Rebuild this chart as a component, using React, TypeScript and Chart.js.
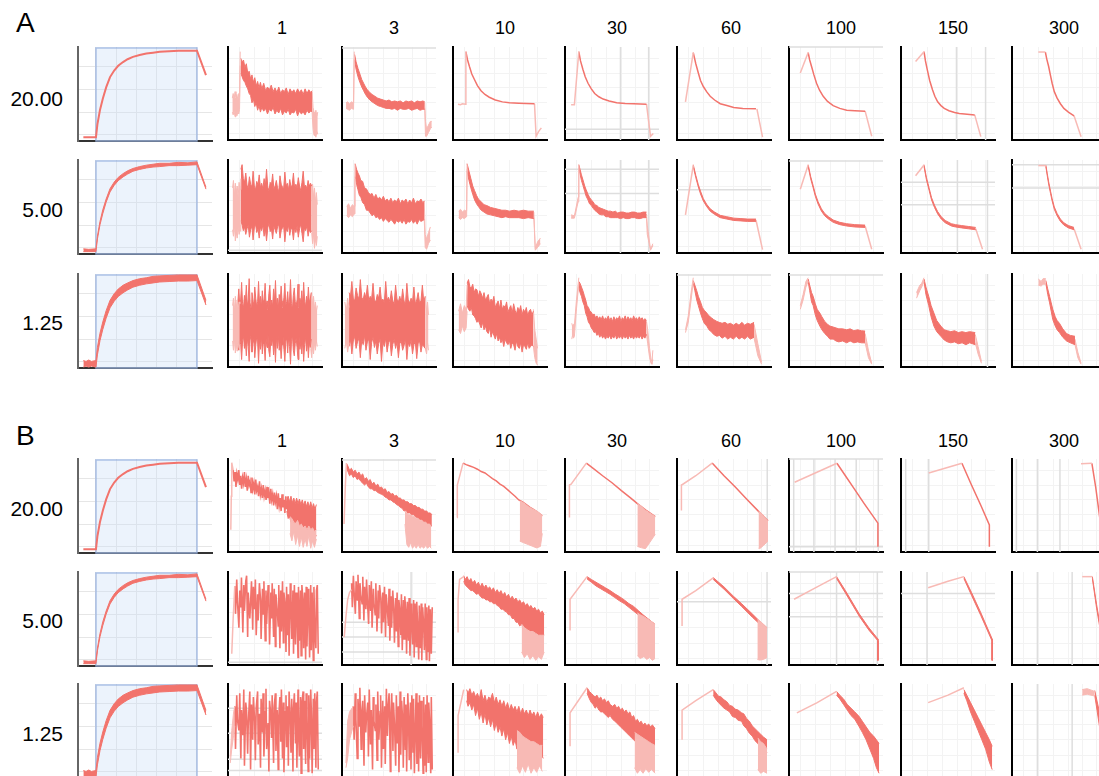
import React, { useEffect, useRef } from "react";
import { Chart, registerables } from "chart.js";
Chart.register(...registerables);

type Pt = number[];
type Seg = [string, Pt[]];

// ---------- labels ----------
const COLS = ["1", "3", "10", "30", "60", "100", "150", "300"];
const ROWS = ["20.00", "5.00", "1.25"];

// ---------- first column: build-up curves ----------
const RISE_20: Pt[] = [[4,4],[13.4,4],[14.5,18],[16.4,33],[18.5,45],[21,57],[23.9,68],[27,75],[30,80],[33.6,84],[37,87],[41,89.5],[46,91.5],[51,93],[56,94],[61,95],[68,95.5],[75,96],[82,96],[88.8,96],[95.5,70]];
const RISE_5: Pt[] = [[4,5.5,2.5],[8,5,2.5],[13.4,5.5,2.5],[14.5,19,16],[16.4,34.5,31],[18.5,47,43],[21,58.5,55],[23.9,69.5,66],[27,76.5,73],[30,81.5,78],[33.6,85.5,82],[37,88.5,85],[41,91,88],[46,93,90],[51,94.5,91.5],[56,95.5,92.5],[61,96.5,93],[68,96.5,94],[75,97.5,94],[82,97,94.5],[88.8,98,95],[95.5,71,69]];
const RISE_125: Pt[] = [[4,8,1],[6,7,2],[8,8.5,1],[10,7,2],[13.4,8,1],[14.5,22,14],[16.4,37,29],[18.5,49,41],[21,61,53],[23.9,72,64],[27,79,71],[30,84,76],[33.6,88,80],[37,90.5,83],[41,93,86],[46,95,88],[51,96,89.5],[56,97.5,90.5],[61,98,91.5],[68,98.5,92],[75,99,92.5],[82,99,92.5],[88.8,99,93],[95.5,72,67]];

// ---------- panel A ----------
const A20_1: Seg[] = [
  ["L", [[4.6,45,30],[5.5,50,27],[6.5,44,31],[7.5,52,25],[8.5,46,29],[9.5,49,26],[10.5,43,30],[11.5,50,28],[12.3,47,33],[13,95,80]]],
  ["M", [[13.5,88,72],[15,84,68],[16.5,86,64],[18,78,62],[19.5,82,58],[21,72,55],[22.5,74,50],[24,66,48],[25.5,70,40],[27,62,44],[28.5,67,36],[30,58,40],[31.5,63,32],[33,56,37],[34.5,62,30],[36,55,35],[38,61,31],[40,53,34],[42,57,28],[44,54,33],[46,59,31],[48,52,35],[50,56,28],[52,51,32],[54,57,29],[56,50,34],[58,54,27],[60,52,31],[62,56,29],[64,49,33],[66,55,27],[68,51,30],[70,54,29],[72,50,33],[74,55,26],[76,51,31],[78,54,28],[80,49,30],[82,55,27],[84,50,32],[86,54,29],[88,51,31],[89.5,53,30]]],
  ["L", [[89.5,52,29],[90.5,35,12],[91.5,30,5],[92.5,28,8],[93.5,32,3],[94.5,26,9],[95.5,30,6]]],
];
const A20_3: Seg[] = [
  ["L", [[4.3,40,34],[6,41,33],[8,39,32],[10,41,34],[12.3,40,33],[13,95,88]]],
  ["M", [[13.4,92,86],[15,84,76],[17,77,68],[19,71,62],[21,65,57],[23,61,53],[25,57,49],[27,54,46],[29.6,51,43],[32,49,41],[35,47,39],[38,45,37],[41,44,36],[44,43,35],[47,42,34],[50,43,34],[53,41,33],[56,42,34],[59,41,32],[62,42,34],[65,40,33],[68,42,33],[71,41,34],[74,42,32],[77,40,33],[80,42,34],[83,41,32],[86,42,33],[88,41,33]]],
  ["L", [[88,40,34],[88.8,20,4],[90,12,4],[92,16,8],[94,20,12],[95.5,20,14]]],
];
const A20_10: Seg[] = [
  ["L", [[5.3,38.5],[8,38],[10,39],[13.3,38.5],[13.7,95]]],
  ["M", [[13.7,95],[15.5,86],[17.5,79],[20,71],[22.8,65],[26,58.5],[29.8,53],[34,49],[38.6,46],[45,43],[52.6,41],[60,40],[70,39.5],[78,39.2],[86.7,39]]],
  ["L", [[86.7,39],[88.4,4],[91,9],[94,13]]],
];
const A20_30: Seg[] = [
  ["L", [[6.5,38],[10,38],[14.7,95]]],
  ["M", [[14.7,95],[16.5,85],[19,76],[21.5,68],[24.5,61],[28,55],[31.6,50],[36,46.5],[40.6,44],[47,42],[55,40],[64,39.3],[73,39],[80,38.8],[86.7,38.5]]],
  ["L", [[86.7,38.5],[91,4],[93.9,7]]],
];
const A20_60: Seg[] = [
  ["L", [[9,41],[17.3,94]]],
  ["M", [[17.3,94],[20,82],[22.7,72],[25,64],[28,57.5],[31.5,52],[35.3,47],[40,43],[46,39],[53,37],[60.4,35],[70,34],[84,33.5]]],
  ["L", [[85,33.5],[91,3]]],
];
const A20_100: Seg[] = [
  ["L", [[12,72],[20.4,94]]],
  ["M", [[20.4,94],[22,86],[24,79],[26.5,70],[29.3,61],[32.5,53.5],[36.4,47],[41,41.5],[47,37],[54,34],[61.4,32],[70,31.5],[81,31]]],
  ["L", [[81,31],[88,4]]],
];
const A20_150: Seg[] = [
  ["L", [[15.5,84.5],[24.5,95]]],
  ["M", [[24.5,95],[26,85],[28,75.5],[30.5,64],[33.5,54],[36,47],[39,41],[42.5,37],[46,34],[51,31.5],[57,29.5],[62,28.5],[67.6,28],[73,27.5],[78.4,27]]],
  ["L", [[78.4,27],[84.9,3.6]]],
];
const A20_300: Seg[] = [
  ["L", [[28,94.6],[35.5,94.6]]],
  ["M", [[35.5,94.6],[37,87],[39,79],[40.8,70],[42.7,61],[45,52],[48,45],[51.5,39],[55.2,34],[60,30],[66,26]]],
  ["L", [[66,26],[73.5,3.6]]],
];

const A5_1: Seg[] = [
  ["L", [[4.9,70,25],[5.8,78,18],[6.8,62,30],[7.8,75,13],[8.8,66,22],[9.8,72,16],[10.8,60,28],[11.8,76,20],[12.8,68,24],[13.7,80,30]]],
  ["M", [[13.7,90,35],[15,95,30],[16.3,80,24],[17.6,76,28],[18.9,86,20],[20.2,73,26],[21.5,70,30],[22.8,82,17],[24.1,74,25],[25.4,71,29],[26.7,88,14],[28,72,27],[29.3,68,31],[30.6,77,22],[31.9,73,26],[33.2,84,16],[34.5,70,28],[35.8,75,24],[37.1,69,30],[38.4,80,18],[39.7,72,26],[41,90,13],[42.3,71,27],[43.6,67,32],[44.9,76,23],[46.2,73,26],[47.5,85,15],[48.8,69,29],[50.1,72,25],[51.4,78,21],[52.7,70,28],[54,66,31],[55.3,83,16],[56.6,74,24],[57.9,71,27],[59.2,69,29],[60.5,87,12],[61.8,72,26],[63.1,75,23],[64.4,68,30],[65.7,79,19],[67,71,27],[68.3,73,25],[69.6,86,14],[70.9,69,28],[72.2,74,22],[73.5,70,29],[74.8,81,17],[76.1,72,26],[77.4,67,31],[78.7,76,21],[80,88,12],[81.3,71,27],[82.6,73,24],[83.9,69,29],[85.2,78,18],[86.5,72,25],[87.8,75,22],[89,72,24]]],
  ["L", [[89,72,22],[90,74,10],[91,60,20],[92,70,5],[93,55,15],[94,65,8],[95,52,18]]],
];
const A5_3: Seg[] = [
  ["L", [[5,50,40],[7,53,38],[9,48,41],[11,52,39],[13,50,42],[13.8,96,80]]],
  ["M", [[14,96,82],[15.5,90,74],[17,86,68],[18.5,83,62],[20,78,60],[22,77,54],[24,70,52],[26,69,46],[28,65,46],[30,63,43],[32,64,40],[34,59,42],[36,63,38],[38,58,39],[40,60,36],[42,57,38],[44,61,34],[46,56,37],[48,58,35],[50,55,33],[52,59,36],[54,54,34],[56,57,31],[58,55,35],[60,59,33],[62,53,35],[64,57,32],[66,55,36],[68,58,31],[70,53,34],[72,57,33],[74,54,36],[76,59,32],[78,53,35],[80,56,31],[82,55,36],[84,58,34],[86,54,35],[87.5,56,36]]],
  ["L", [[87.5,56,36],[88.5,20,6],[90,15,4],[92,22,10],[94,28,14]]],
];
const A5_10: Seg[] = [
  ["L", [[6,45,38],[8,47,36],[10,44,38],[12,46,37],[14.5,45,39],[15,96,90]]],
  ["M", [[15,96,88],[17,88,78],[19,80,70],[21,72,63],[23,67,57],[25,62,53],[27,58,50],[30,55,46],[33,52,44],[36,51,42],[40,49,41],[44,48,40],[48,47,39],[52,46,38],[56,46,39],[60,45,38],[65,46,38],[70,45,38],[75,46,37],[80,45,38],[86,45,37]]],
  ["L", [[86,44,38],[87.5,5,3],[90,12,6],[93,16,10]]],
];
const A5_30: Seg[] = [
  ["L", [[6.5,41,37.5],[10,40,37.5],[14,60,55],[14.7,95,93]]],
  ["M", [[14.7,95,91],[16,90,85],[17.5,84,78],[19,79,73],[21,72,66],[22.5,68,61],[24.5,63,57],[26,60,53],[28,57,51],[30,55,48],[31.6,52,46],[34,51,44],[36,49,42],[38.5,48,41],[41,47,41],[43.5,46,39],[46,45,39],[48.5,45,38],[51,44,38],[53.5,45,38],[56,43,38],[59,44,37],[62,44,38],[65,43,37],[68,43,37],[71,44,38],[74,44,38],[77,43,37],[80,43,37],[83,44,38],[86.7,44,38]]],
  ["L", [[86.7,42,37],[87.5,30,20],[91,4,3],[93.5,10,8]]],
];
const A5_60: Seg[] = [
  ["L", [[9,41],[17.3,94.6]]],
  ["M", [[17.3,95,93],[20,83.5,81],[22.7,73.5,71],[25,66.5,63.5],[28,58.5,56],[31.5,52.5,50],[35.3,47.5,45],[40,44,41.5],[46,40.5,38],[53,39,36.5],[60.4,37.5,35],[68,37,34.5],[75,36.5,34],[84,36.5,34]]],
  ["L", [[84,35.5],[91,3.6]]],
];
const A5_100: Seg[] = [
  ["L", [[12,68.6],[20.4,94.6]]],
  ["M", [[20.4,95,93],[23,82.5,80],[25.7,72.5,70],[28,63.5,61],[31,55,52.5],[34.5,47.5,45],[38,42.5,40],[42,39,36.5],[47,35.5,33],[54,33,30.5],[61.4,31.5,29],[70,30.5,28],[81,30,27.5]]],
  ["L", [[81,29],[88,4]]],
];
const A5_150: Seg[] = [
  ["L", [[15.5,83],[24.5,94.6]]],
  ["M", [[24.5,95,93],[27,81.5,79],[30,69.5,67],[32.5,59.5,57],[35.6,51.5,49],[39,44.5,42],[42.8,39,36.5],[47,35,32.5],[53.6,31.5,29],[58,30.5,28],[64.4,29.5,27],[72,28.5,26],[79.5,27.5,25]]],
  ["L", [[79.5,26],[86.7,4]]],
];
const A5_300: Seg[] = [
  ["L", [[28,94],[36,94]]],
  ["M", [[36,94.5,93],[37.5,85.5,83],[39,76.5,74],[41,66.5,64],[42.7,58.5,56],[45,49.5,47],[48,42.5,40],[51.5,36.5,34],[55.2,32.5,30],[60,29.5,27],[66,27.5,25]]],
  ["L", [[66,26],[73.5,4]]],
];

const A125_1: Seg[] = [
  ["L", [[4.9,66,28],[5.8,74,18],[6.8,60,30],[7.8,76,15],[8.8,64,24],[9.8,72,17],[10.8,62,28],[11.8,70,20],[12.5,68,24]]],
  ["M", [[10.5,70,26],[11.5,84,18],[12.5,66,30],[13.5,73,24],[14.5,91,8],[15.5,68,28],[16.5,64,33],[17.5,77,20],[18.5,70,27],[19.5,88,12],[20.5,66,31],[21.5,72,22],[22.5,95,6],[23.5,69,29],[24.5,63,34],[25.5,80,16],[26.5,71,25],[27.5,67,30],[28.5,86,10],[29.5,74,23],[30.5,65,32],[31.5,70,27],[32.5,92,4],[33.5,68,28],[34.5,76,19],[35.5,64,33],[36.5,82,14],[37.5,69,26],[38.5,73,24],[39.5,90,7],[40.5,66,30],[41.5,71,21],[42.5,62,35],[43.5,79,17],[44.5,88,11],[45.5,67,29],[46.5,72,23],[47.5,65,31],[48.5,84,13],[49.5,70,27],[50.5,93,5],[51.5,66,32],[52.5,74,20],[53.5,63,34],[54.5,78,18],[55.5,69,26],[56.5,87,9],[57.5,71,24],[58.5,64,33],[59.5,75,19],[60.5,90,6],[61.5,67,28],[62.5,70,30],[63.5,81,15],[64.5,65,32],[65.5,73,22],[66.5,94,3],[67.5,68,27],[68.5,62,35],[69.5,77,18],[70.5,85,12],[71.5,70,25],[72.5,66,31],[73.5,72,21],[74.5,89,8],[75.5,64,33],[76.5,74,19],[77.5,69,26],[78.5,82,14],[79.5,67,29],[80.5,91,6],[81.5,71,24],[82.5,65,32],[83.5,76,17],[84.5,68,28],[85.5,86,10],[86.5,70,26],[87.5,73,21],[88.5,80,30]]],
  ["L", [[88,72,20],[89,80,10],[90,66,24],[91,76,14],[92,62,26],[93,70,18],[94,60,28],[95,66,22]]],
];
const A125_3: Seg[] = [
  ["L", [[3,70,20],[4.5,60,28],[6,74,16],[7.5,64,26]]],
  ["M", [[7.5,80,22],[9,76,30],[10.5,92,14],[12,74,28],[13.5,71,33],[15,85,20],[16.5,77,27],[18,73,31],[19.5,94,10],[21,75,29],[22.5,72,24],[24,80,34],[25.5,74,18],[27,88,27],[28.5,71,30],[30,76,8],[31.5,73,26],[33,90,32],[34.5,72,21],[36,70,28],[37.5,78,14],[39,74,25],[40.5,86,30],[42,71,6],[43.5,73,27],[45,69,22],[46.5,92,31],[48,72,16],[49.5,75,26],[51,70,29],[52.5,82,12],[54,71,24],[55.5,68,30],[57,88,20],[58.5,73,27],[60,70,10],[61.5,76,25],[63,69,28],[64.5,84,18],[66,71,23],[67.5,67,30],[69,90,8],[70.5,72,26],[72,69,22],[73.5,74,29],[75,70,14],[76.5,86,24],[78,68,27],[79.5,72,9],[81,80,25],[82.5,69,28],[84,71,16],[85.5,88,24],[87,70,22],[88.5,76,20]]],
  ["L", [[88.5,76,20],[90,60,14],[91,70,26],[92,56,18]]],
];
const A125_10: Seg[] = [
  ["L", [[6,60,40],[8,68,36],[10,58,44],[12,66,38],[14,62,42],[15,88,60]]],
  ["M", [[15,90,66],[16.5,94,62],[18,86,60],[19.5,85,64],[21,89,56],[22.5,80,55],[24,84,52],[25.5,83,48],[27,76,50],[28.5,82,46],[30,79,42],[31.5,74,48],[33,80,40],[34.5,72,44],[36,75,38],[37.5,78,36],[39,68,42],[40.5,73,32],[42,70,38],[43.5,76,34],[45,64,30],[46.5,68,36],[48,71,28],[49.5,63,32],[51,72,26],[52.5,62,30],[54,66,22],[55.5,64,30],[57,70,26],[58.5,59,24],[60,63,28],[61.5,66,20],[63,58,26],[64.5,68,24],[66,61,18],[67.5,57,28],[69,64,22],[70.5,60,20],[72,66,26],[73.5,56,16],[75,62,24],[76.5,59,22],[78,64,19],[79.5,55,26],[81,60,20],[82.5,62,22],[84,56,24],[85.5,60,22]]],
  ["L", [[85.5,62,22],[87,40,10],[88.5,30,4],[90,20,2]]],
];
const A125_30: Seg[] = [
  ["L", [[7.2,47,30],[8,44,34],[9,46,31],[10,45,33],[12,70,60],[14.7,96,90]]],
  ["M", [[14.7,92,86],[16,90,80],[17.5,86,76],[19,82,70],[20.5,77,66],[22,72,58],[23.5,66,54],[25,64,48],[26.5,60,46],[28,59,42],[29.5,56,40],[31,57,37],[32.5,53,38],[34,55,34],[35.5,52,36],[37,54,32],[38.5,51,35],[40,55,31],[41.5,50,34],[43,53,30],[44.5,51,33],[46,55,31],[47.5,50,34],[49,53,30],[50.5,49,33],[52,54,31],[53.5,50,35],[55,53,30],[56.5,51,33],[58,55,31],[59.5,49,34],[61,53,30],[62.5,51,34],[64,55,31],[65.5,50,33],[67,54,30],[68.5,51,34],[70,53,31],[71.5,50,33],[73,55,30],[74.5,51,34],[76,53,31],[77.5,50,33],[79,54,31],[80.5,51,34],[82,53,30],[83.5,50,33],[85,52,31],[86.7,50,35]]],
  ["L", [[86.7,49,35],[88,40,25],[90,20,10],[91.5,8,4],[92.5,6,3],[93.5,18,8]]],
];
const A125_60: Seg[] = [
  ["L", [[9,40,37],[12,55,48],[15,80,72],[17.3,96,92]]],
  ["M", [[17.3,93,90],[19,88,82],[21,82,72],[22.7,76,66],[25,70,58],[27,64,52],[29,61,47],[31.7,58,44],[34,55,40],[36.5,53,38],[39,51,35],[42.4,49,33],[45,48,34],[48,47,31],[51,48,33],[54,46,30],[56.8,47,32],[60,45,30],[63,47,33],[66,45,30],[69,48,32],[72,45,30],[75,47,33],[78,46,30],[82,48,32]]],
  ["L", [[82,46,31],[86,25,12],[90,5,3]]],
];
const A125_100: Seg[] = [
  ["L", [[12,66,62],[15,78,72],[18,92,86],[20.4,96,92]]],
  ["M", [[20.4,94.6,92],[22,88,82],[24,80,70],[25.7,76,66],[28,68,56],[30,62,50],[32.8,58,44],[35,54,40],[38,49,36],[41,46,33],[43.5,44,30],[47,43,30],[50,42,28],[53,41,27],[57,41,28],[61.4,40,26],[65,41,28],[69,39,26],[73,40,27],[77,39,26],[81,38.6,26]]],
  ["L", [[81,36,26],[84.5,18,10],[88,4,3]]],
];
const A125_150: Seg[] = [
  ["L", [[16.5,80,74],[20,88,82],[22,90,86],[24.5,96,92]]],
  ["M", [[24.5,94.6,92],[26.5,86,78],[29.5,76,66],[32,66,54],[35,58,44],[38,50,38],[42.4,44,33],[46,40,29],[49.5,39,27],[53,38,26],[57,39,27],[61,37,25],[65,38,26],[69,37,24],[73,38,26],[79,37,24]]],
  ["L", [[79,35,26],[82,22,14],[85.6,6,4]]],
];
const A125_300: Seg[] = [
  ["L", [[28,94.6,88],[31,92,87],[33,95,89],[36,95,89]]],
  ["M", [[36,93,90],[38,84,78],[40,76,69],[41.7,69,60],[43.4,62,51],[46,54,44],[48,50,40],[50.5,47,37],[54,41,32],[58,36,28],[62,34,26],[67,33,24]]],
  ["L", [[67,30,24],[70,16,10],[73.5,4,3]]],
];

// ---------- panel B ----------
const B20_1: Seg[] = [
  ["L", [[3,24],[3.5,60],[4,96],[5.5,88]]],
  ["L", [[66,38,20],[68,36,12],[70,32,22],[72,30,8],[74,34,18],[76,28,6],[78,30,16],[80,26,5],[82,28,14],[84,24,6],[86,28,18],[88,24,4],[90,26,12],[92,22,5],[94,24,14]]],
  ["Z", [[5.5,88],[6.5,76],[7.5,86],[8.5,70],[9.5,84],[10.5,78],[11.5,88],[12.5,72],[13.5,82],[14.5,68],[15.5,80],[16.5,74],[17.5,86],[18.5,70],[19.5,78],[20.5,66],[21.5,82],[22.5,72],[23.5,76],[24.5,64],[25.5,80],[26.5,68],[27.5,74],[28.5,62],[29.5,78],[30.5,66],[31.5,70],[32.5,60],[33.5,76],[34.5,62],[35.5,68],[36.5,58],[37.5,72],[38.5,60],[39.5,66],[40.5,56],[41.5,70],[42.5,58],[43.5,64],[44.5,52],[45.5,68],[46.5,56],[47.5,62],[48.5,50],[49.5,64],[50.5,54],[51.5,60],[52.5,46],[53.5,63],[54.5,50],[55.5,58],[56.5,44],[57.5,62],[58.5,48],[59.5,56],[60.5,42],[61.5,60],[62.5,46]]],
  ["M", [[62.5,58,44],[64,60,36],[65.5,54,38],[67,60,32],[68.5,53,36],[70,58,30],[71.5,52,34],[73,58,28],[74.5,52,32],[76,57,26],[77.5,51,30],[79,56,24],[80.5,50,28],[82,55,22],[83.5,49,26],[85,54,20],[86.5,48,24],[88,54,18],[89.5,47,22],[91,52,16],[92.5,46,20],[94,51,17]]],
];
const B20_3: Seg[] = [
  ["L", [[2.2,30],[3.5,70],[4.7,95.6]]],
  ["L", [[67,44,30],[69,42,8],[71,40,5],[73,40,10],[75,38,4],[77,38,7],[79,36,4],[81,36,8],[83,34,4],[85,34,6],[87,32,4],[89,32,7],[91,30,4],[93,30,6],[95,28,4]]],
  ["M", [[5,95,90],[6.5,92,86],[8,88,82],[10,90,84],[12,86,80],[14,88,82],[16,84,78],[18,86,79],[20,82,76],[22,84,74],[24,78,72],[26,80,74],[28,76,70],[30,78,68],[32,73,68],[34,75,66],[36,71,66],[38,73,64],[40,69,63],[42,70,62],[44,67,61],[46,68,59],[48,64,58],[50,65,56],[52,62,56],[54,63,54],[56,60,53],[58,61,51],[60,58,50],[62,58,48],[64,56,47],[66,56,44],[68,54,45],[70,54,42],[72,52,42],[74,52,40],[76,50,40],[78,50,38],[80,48,37],[82,48,35],[84,46,35],[86,46,33],[88,44,32],[90,44,30],[92,42,30],[94,42,28],[95.6,40,28]]],
];
const B20_10: Seg[] = [
  ["L", [[4.3,37],[4.6,72],[10.7,95.6]]],
  ["L", [[71,55,11.7],[75,53,10],[80,49,8],[85,46,6],[89,44,4.4],[93,41,6],[95,39,20]]],
  ["M", [[10.7,95.6],[14,94],[18,92.5],[22,91],[26,89],[30,86.5],[34,85],[38,82],[42,79],[46,76.5],[50,73],[54,70.5],[58,67],[62,63.5],[66,60],[70,56],[74,54],[78,51],[82,48],[86,45.5],[90,43],[95,39]]],
];
const B20_30: Seg[] = [
  ["L", [[4.7,37],[4.7,72],[6.5,73],[22.7,95.6]]],
  ["L", [[77,52,6],[81.5,49,4.5],[85.6,45,3.6],[90,42,10],[96,38,19]]],
  ["M", [[22.7,95.6],[30,90],[40,82],[50,74.5],[60,66],[70,58],[77,52],[86,45],[96,38]]],
];
const B20_60: Seg[] = [
  ["L", [[4.7,44.5],[4.7,72],[5.8,72.6],[20,82],[37.4,95.6]]],
  ["L", [[86.7,44,4],[88,43,3.6],[92,39,7],[96.8,33.6,11.7]]],
  ["M", [[37.4,95.6],[50,82],[62,70],[74,57],[86,44.5],[96.8,33.6]]],
];
const B20_100: Seg[] = [
  ["L", [[6,75],[51,95.4]]],
  ["M", [[51,95.4],[60,82],[70,67],[80,52],[94.6,31],[94.6,5.7]]],
];
const B20_150: Seg[] = [
  ["L", [[29.5,85],[64.8,95.4]]],
  ["M", [[64.8,95.4],[75,72],[85,50],[94,29],[94,5.7]]],
];
const B20_300: Seg[] = [
  ["L", [[73.4,95],[85,95.4]]],
  ["M", [[85,95.4],[89,70],[93.5,36],[96,20]]],
];

const B5_1: Seg[] = [
  ["L", [[4,12],[5.5,50],[7.2,85]]],
  ["Z", [[7.2,85],[8.0,55],[9.3,92],[10.0,70],[11.6,40],[12.5,80],[13.7,62],[14.3,94],[15.8,35],[16.8,86],[17.5,58],[18.9,90],[19.8,96],[20.9,30],[21.5,78],[23.2,50],[24.0,66],[25.0,90],[26.3,38],[27.0,84],[28.4,60],[29.1,92],[30.0,32],[31.5,76],[32.1,48],[33.4,88],[34.6,70],[35.2,28],[36.7,82],[37.3,55],[38.2,90],[39.6,26],[40.4,80],[41.1,44],[42.7,86],[43.5,66],[44.2,22],[45.6,78],[46.3,50],[47.0,88],[48.5,30],[49.2,82],[50.4,20],[51.0,76],[52.3,60],[53.4,42],[54.0,86],[55.2,18],[56.1,80],[56.8,36],[58.0,90],[58.9,24],[59.5,78],[60.8,64],[61.7,14],[62.3,84],[63.5,32],[64.2,76],[65.0,10],[66.3,88],[67.0,70],[67.8,28],[69.1,80],[69.7,12],[70.6,86],[71.8,22],[72.4,78],[73.3,58],[74.5,8],[75.0,84],[75.9,26],[77.2,80],[77.8,10],[78.6,86],[79.9,66],[80.5,18],[81.4,78],[82.6,6],[83.2,84],[84.0,20],[85.3,82],[85.9,60],[86.8,8],[88.0,86],[88.6,16],[89.5,78],[90.8,5],[91.4,84],[92.3,40],[93.5,18],[94.1,80],[95.0,86],[96.0,12]]],
];
const B5_3: Seg[] = [
  ["L", [[2.4,30],[4,50],[6,70],[8,78],[10.2,81]]],
  ["Z", [[10.2,88],[11.0,62],[12.1,96],[12.8,80],[14.2,55],[15.0,90],[16.3,70],[17.0,97],[18.4,50],[19.1,88],[20.0,76],[21.4,66],[22.1,95],[23.3,48],[24.0,84],[25.4,60],[26.1,92],[27.0,70],[28.3,44],[29.1,86],[30.5,58],[31.2,90],[32.0,40],[33.4,82],[34.1,66],[35.3,54],[36.0,88],[37.2,36],[38.5,80],[39.1,50],[40.0,86],[41.3,72],[42.1,34],[43.4,78],[44.0,46],[45.2,84],[46.3,30],[47.0,76],[48.1,62],[49.4,42],[50.0,82],[50.9,26],[52.2,74],[52.8,40],[54.0,80],[55.1,58],[55.8,24],[57.0,72],[57.9,36],[58.6,78],[59.8,20],[60.5,70],[61.4,60],[62.6,32],[63.2,76],[64.1,16],[65.3,70],[66.0,28],[66.8,74],[68.0,54],[68.7,12],[69.5,68],[70.8,26],[71.4,72],[72.3,10],[73.5,66],[74.1,50],[75.0,22],[76.2,70],[76.8,8],[77.7,66],[78.9,20],[79.5,68],[80.4,44],[81.6,6],[82.2,64],[83.1,18],[84.3,66],[84.9,5],[85.8,62],[87.0,40],[87.6,16],[88.5,66],[89.7,6],[90.3,62],[91.2,14],[92.4,64],[93.0,4],[94.0,60],[95.0,12],[96.0,62]]],
];
const B5_10: Seg[] = [
  ["L", [[5.4,35],[5.4,70],[7,92],[11.4,95]]],
  ["L", [[73,44,14],[76,40,8],[79,38,12],[82,36,6],[85,36,10],[88,34,5],[91,32,9],[94,32,6],[97,32,14]]],
  ["M", [[11.4,96,90],[13,92,86],[15,95,84],[17,90,82],[19,93,80],[21,88,80],[23,91,78],[25,86,76],[27,89,77],[29,84,74],[31,88,72],[33,83,72],[35,86,70],[37,82,70],[39,84,68],[41,80,68],[43,83,66],[45,78,66],[47,81,64],[49,77,63],[51,80,60],[53,75,60],[55,78,58],[57,73,57],[59,76,54],[61,71,54],[63,74,50],[65,70,50],[67,72,46],[69,68,46],[71,70,42],[73,66,44],[75,68,38],[77,64,40],[79,66,36],[81,62,38],[83,64,34],[85,60,36],[87,62,32],[89,58,34],[91,60,30],[93,56,32],[95,58,30],[97,54,32]]],
];
const B5_30: Seg[] = [
  ["L", [[5.4,37],[5.4,70.7],[23.5,95]]],
  ["L", [[77,56,10],[80,54,7],[84,52,9],[87,50,6],[90,48,8],[93,46,5],[95.8,44,7]]],
  ["M", [[23.5,95,92.5],[28,92,89],[33,89,85],[38,86,82],[43,83,79],[48,80,76],[53,76.5,72.5],[58,73.5,69],[63,70,66],[68,66,62],[73,63,58],[78,58.5,54],[83,54,50],[88,50,45],[93,46,41],[95.8,44,39]]],
];
const B5_60: Seg[] = [
  ["L", [[5.4,42],[5.4,70.7],[20,80],[38.5,93.6]]],
  ["L", [[85.5,50,6],[88,47,5.3],[92,44,6],[95.8,40,8]]],
  ["M", [[38.5,94,92],[50,84,81.5],[60,74,71.5],[68.7,66,63],[80,55,51.5],[88,47,44],[95.8,40,37]]],
];
const B5_100: Seg[] = [
  ["L", [[5.4,70.7],[30,84],[50.6,95]]],
  ["M", [[50.6,95,93],[60,80,77.5],[74.7,55,52.5],[85,40,37.5],[94.6,28,26],[94.6,5,5]]],
];
const B5_150: Seg[] = [
  ["L", [[28.9,83],[50,90],[66.9,95]]],
  ["M", [[66.9,95,93],[75,78,75],[85,56,53],[97,28,25.5],[97,5,5]]],
];
const B5_300: Seg[] = [
  ["L", [[74.7,95],[85.5,95]]],
  ["M", [[85.5,95,93],[90,65,61],[95,35,31]]],
];

const B125_1: Seg[] = [
  ["L", [[2.4,22,15],[4,50,30],[6,70,45],[7.2,76,55]]],
  ["Z", [[7.2,76],[8.0,30],[9.3,88],[10.0,62],[11.6,50],[12.5,90],[13.7,20],[14.3,72],[15.8,45],[16.8,94],[17.5,12],[18.9,80],[19.8,70],[20.9,25],[21.5,55],[23.2,92],[24.0,8],[25.0,78],[26.3,40],[27.0,86],[28.4,60],[29.1,18],[30.0,74],[31.5,92],[32.1,35],[33.4,68],[34.6,10],[35.2,84],[36.7,48],[37.3,90],[38.2,22],[39.6,70],[40.4,95],[41.1,30],[42.7,58],[43.5,6],[44.2,82],[45.6,66],[46.3,42],[47.0,88],[48.5,15],[49.2,76],[50.4,90],[51.0,28],[52.3,72],[53.4,8],[54.0,64],[55.2,86],[56.1,38],[56.8,94],[58.0,20],[58.9,80],[59.5,5],[60.8,70],[61.7,88],[62.3,32],[63.5,76],[64.2,12],[65.0,92],[66.3,60],[67.0,26],[67.8,84],[69.1,6],[69.7,74],[70.6,90],[71.8,36],[72.4,80],[73.3,10],[74.5,94],[75.0,52],[75.9,22],[77.2,86],[77.8,4],[78.6,78],[79.9,92],[80.5,30],[81.4,82],[82.6,14],[83.2,90],[84.0,66],[85.3,6],[85.9,88],[86.8,20],[88.0,94],[88.6,72],[89.5,4],[90.8,84],[91.4,30],[92.3,90],[93.5,10],[94.1,80],[95.0,92],[96.0,8]]],
];
const B125_3: Seg[] = [
  ["L", [[4.2,15,10],[6,60,20],[8,70,40],[12,76,55]]],
  ["Z", [[12.0,76],[12.9,40],[14.1,90],[14.8,62],[16.2,20],[17.0,84],[18.3,55],[19.0,96],[20.4,30],[21.1,70],[22.0,82],[23.4,12],[24.1,88],[25.3,48],[26.0,64],[27.4,80],[28.1,22],[29.0,94],[30.3,35],[31.1,72],[32.5,8],[33.2,86],[34.0,60],[35.4,50],[36.1,78],[37.3,18],[38.0,92],[39.2,40],[40.5,70],[41.1,88],[42.0,10],[43.3,82],[44.1,30],[45.4,76],[46.0,14],[47.2,95],[48.3,44],[49.0,74],[50.1,90],[51.4,6],[52.0,66],[52.9,90],[54.2,28],[54.8,80],[56.0,52],[57.1,12],[57.8,88],[59.0,36],[59.9,76],[60.6,5],[61.8,92],[62.5,24],[63.4,82],[64.6,60],[65.2,10],[66.1,86],[67.3,30],[68.0,78],[68.8,6],[70.0,90],[70.7,70],[71.5,18],[72.8,80],[73.4,8],[74.3,88],[75.5,26],[76.1,84],[77.0,4],[78.2,62],[78.8,90],[79.7,14],[80.9,80],[81.5,6],[82.4,88],[83.6,20],[84.2,82],[85.1,56],[86.3,4],[86.9,86],[87.8,12],[89.0,78],[89.6,5],[90.5,88],[91.7,16],[92.3,80],[93.2,60],[94.4,4],[95.0,86],[96.0,8]]],
];
const B125_10: Seg[] = [
  ["L", [[5.4,26],[5.4,66],[11.4,94]]],
  ["L", [[68,50,10],[71,48,4],[74,44,12],[77,42,5],[80,40,14],[83,38,4],[86,38,10],[89,36,5],[92,34,12],[95,34,6]]],
  ["M", [[14.5,94,82],[16,90,76],[18,95,80],[20,88,72],[22,92,78],[24,86,66],[26,90,74],[28,84,62],[30,94,70],[32,82,58],[34,88,68],[36,80,56],[38,86,64],[40,84,54],[42,90,62],[44,80,50],[46,86,58],[48,78,48],[50,83,54],[52,76,44],[54,82,52],[56,74,40],[58,80,48],[60,72,36],[62,78,44],[64,72,34],[66,76,40],[68,70,30],[70,76,38],[72,68,28],[74,74,34],[76,68,26],[78,72,32],[80,66,24],[82,72,30],[84,66,22],[86,70,28],[88,64,20],[90,70,26],[92,64,18],[94,68,24],[96,64,20]]],
];
const B125_30: Seg[] = [
  ["L", [[5.4,33],[5.4,69],[23.5,96]]],
  ["L", [[74,48,10],[77,46,4],[80,44,8],[83,42,4],[86,40,9],[89,38,5],[92,36,8],[95.8,34,4]]],
  ["M", [[23.5,96,90],[26,92,84],[28,90,80],[30,88,78],[32,86,74],[34,88,76],[36,84,72],[38,86,70],[40,82,70],[42,84,68],[44,80,66],[46,82,64],[48,78,66],[50.6,76,62],[53,78,60],[55,74,58],[57,76,56],[59,72,54],[61,74,52],[63,70,50],[65,72,48],[67,68,46],[69,70,44],[71,64,42],[73,66,40],[75,60,38],[77,62,36],[79,58,36],[81,60,34],[83,56,33],[85,58,32],[87,55,30],[89,57,31],[91,54,29],[93,56,30],[95.8,52,30]]],
];
const B125_60: Seg[] = [
  ["L", [[5.4,40],[5.4,72],[20,82],[38.5,94]]],
  ["L", [[86,42,8],[89,38,4],[92,36,6],[95.8,30,4]]],
  ["M", [[38.5,94,88],[41,91,84],[44,87,80],[47,86,77],[50,83,74],[53,81,72],[56,77,70],[59,76,65],[62,73,64],[65,72,61],[68.7,69,60],[71,68,55],[74,63,52],[77,60,47],[80,55,44],[83,52,39],[86,49,36],[89,46,31],[92,43,30],[95.8,40,26]]],
];
const B125_100: Seg[] = [
  ["L", [[8.4,69],[30,80],[50.6,92]]],
  ["M", [[50.6,92,88],[54,88,84],[58,84,78],[62,78,72],[66,74,66],[70,70,62],[74.7,65,54],[78,60,48],[82,54,40],[86,48,30],[90,44,20],[93,40,10],[95.8,36,4]]],
];
const B125_150: Seg[] = [
  ["L", [[28.9,80],[50,88],[66.9,96]]],
  ["M", [[66.9,94,90],[70,88,82],[74,80,70],[78,72,60],[82,64,50],[86,56,40],[90,48,30],[94,40,16],[97,33,8]]],
];
const B125_300: Seg[] = [
  ["L", [[74.7,94,88],[80,95,89],[88,92,87]]],
  ["M", [[88,93,88],[93,70,55],[97,40,20]]],
];

const A_ROWS: Seg[][][] = [
  [A20_1, A20_3, A20_10, A20_30, A20_60, A20_100, A20_150, A20_300],
  [A5_1, A5_3, A5_10, A5_30, A5_60, A5_100, A5_150, A5_300],
  [A125_1, A125_3, A125_10, A125_30, A125_60, A125_100, A125_150, A125_300],
];
const B_ROWS: Seg[][][] = [
  [B20_1, B20_3, B20_10, B20_30, B20_60, B20_100, B20_150, B20_300],
  [B5_1, B5_3, B5_10, B5_30, B5_60, B5_100, B5_150, B5_300],
  [B125_1, B125_3, B125_10, B125_30, B125_60, B125_100, B125_150, B125_300],
];
const RISES: Pt[][] = [RISE_20, RISE_5, RISE_125];

// ---------- styling (not data) ----------
const MAIN = "#f2736c";
const LIGHT = "#f8bab5";
const COL_LEFT = [228, 342, 453, 565, 677, 789, 901, 1012];
const HEAD_X = [282, 394, 505, 617, 731, 841, 953, 1064];
const A_TOPS = [47, 160, 274];
const B_TOPS = [459, 572, 684];
const A_DARK: number[][][][] = [
  [[[], []], [[], [99]], [[], []], [[59, 89], [11.5]], [[], []], [[], [100]], [[59, 90], []], [[], []]],
  [[[], [3]], [[], []], [[], []], [[59, 89], [90, 64]], [[], [68]], [[], [99]], [[60, 92], [76, 52]], [[], [95, 70]]],
  [[[], []], [[], []], [[], []], [[], []], [[], [99]], [[], [99]], [[92], []], [[], []]],
];
const B_DARK: number[][][][] = [
  [[[], []], [[], [99]], [[], []], [[], []], [[96], []], [[5, 26.5, 49, 71.5, 95], [5.7, 100]], [[5, 29.5], []], [[4.7, 27, 51], []]],
  [[[], [3]], [[73.5], [46, 30, 14]], [[], []], [[], []], [[95.8], [68]], [[50.6, 94], [100, 77, 52]], [[27.7], [77]], [[27, 64], []]],
  [[[], [74, 47, 19, 7]], [[], []], [[], []], [[], []], [[], []], [[], []], [[], []], [[27, 64], []]],
];

const extras = {
  id: "extras",
  beforeDatasetsDraw(chart: any, _a: any, opts: any) {
    const { ctx, chartArea: ca, scales } = chart;
    const xs = scales.x, ys = scales.y;
    ctx.save();
    if (opts.rect) {
      const [x0, x1, y0, y1] = opts.rect;
      const px0 = xs.getPixelForValue(x0), px1 = xs.getPixelForValue(x1);
      const py0 = ys.getPixelForValue(y1), py1 = ys.getPixelForValue(y0);
      ctx.fillStyle = "rgba(200,222,246,0.35)";
      ctx.fillRect(px0, py0, px1 - px0, py1 - py0);
      ctx.strokeStyle = "rgba(150,176,222,0.8)";
      ctx.lineWidth = 1.5;
      ctx.strokeRect(px0, py0, px1 - px0, py1 - py0);
    }
    ctx.strokeStyle = "#dedede";
    ctx.lineWidth = 1.5;
    for (const v of opts.dx || []) {
      const p = xs.getPixelForValue(v);
      ctx.beginPath(); ctx.moveTo(p, ca.top); ctx.lineTo(p, ca.bottom); ctx.stroke();
    }
    for (const v of opts.dy || []) {
      const p = ys.getPixelForValue(v);
      ctx.beginPath(); ctx.moveTo(ca.left, p); ctx.lineTo(ca.right, p); ctx.stroke();
    }
    ctx.restore();
  },
};

function Mini(props: { left: number; top: number; w: number; h: number; segs: Seg[]; dark?: number[][]; rise?: boolean }) {
  const ref = useRef<HTMLCanvasElement>(null);
  const { left, top, w, h, segs, dark, rise } = props;
  useEffect(() => {
    const datasets: any[] = [];
    for (const [kind, pts] of segs) {
      const col = kind === "L" ? LIGHT : MAIN;
      if (pts[0].length === 3) {
        datasets.push({ data: pts.map((p) => ({ x: p[0], y: p[1] })), borderColor: col, borderWidth: 1, pointRadius: 0, fill: false, tension: 0 });
        datasets.push({ data: pts.map((p) => ({ x: p[0], y: p[2] })), borderColor: col, borderWidth: 1, pointRadius: 0, fill: "-1", backgroundColor: col, tension: 0 });
      } else {
        const bw = kind === "Z" ? 1.6 : rise ? 2 : 1.5;
        datasets.push({ data: pts.map((p) => ({ x: p[0], y: p[1] })), borderColor: col, borderWidth: bw, pointRadius: 0, fill: false, tension: 0 });
      }
    }
    const xt = rise ? [13.4, 28.4, 43.6, 58.7, 73.7, 88.8] : [12, 28, 44, 60, 75, 90];
    const yt = rise ? [6.4, 30.5, 55, 79] : [7, 23, 40, 56, 72, 88];
    const gridCol = rise ? "#e6e6e6" : "#f3f3f3";
    const chart = new Chart(ref.current as HTMLCanvasElement, {
      type: "line",
      data: { datasets },
      options: {
        animation: false,
        responsive: false,
        maintainAspectRatio: false,
        events: [],
        layout: { padding: { left: 1, right: 1, top: 1, bottom: 1 } },
        plugins: {
          legend: { display: false },
          tooltip: { enabled: false },
          extras: { dx: dark ? dark[0] : [], dy: dark ? dark[1] : [], rect: rise ? [13.4, 88.8, 0, 99] : null },
        } as any,
        scales: {
          x: {
            type: "linear", min: 0, max: 100,
            ticks: { display: false },
            grid: { color: gridCol, drawTicks: false, lineWidth: 1 },
            border: { display: true, color: rise ? "#333" : "#000", width: 2 },
            afterBuildTicks: (s: any) => { s.ticks = xt.map((v) => ({ value: v })); },
          },
          y: {
            type: "linear", min: 0, max: 100,
            ticks: { display: false },
            grid: { color: gridCol, drawTicks: false, lineWidth: 1 },
            border: { display: true, color: rise ? "#666" : "#000", width: 2 },
            afterBuildTicks: (s: any) => { s.ticks = yt.map((v) => ({ value: v })); },
          },
        },
      } as any,
      plugins: [extras as any],
    });
    return () => chart.destroy();
  }, []);
  return (
    <canvas
      ref={ref}
      width={w + 2}
      height={h + 2}
      style={{ position: "absolute", left: left - 1, top: top - 1, width: w + 2, height: h + 2 }}
    />
  );
}

const FONT = '"Liberation Sans", Arial, Helvetica, sans-serif';

function Txt(props: { x: number; base: number; size: number; align: "left" | "center" | "right"; children: any }) {
  const { x, base, size, align } = props;
  const top = base - 0.8465 * size;
  const style: any = { position: "absolute", top, fontSize: size, lineHeight: `${size}px`, whiteSpace: "nowrap", color: "#000", fontFamily: FONT };
  if (align === "left") style.left = x;
  else if (align === "right") { style.left = x - 200; style.width = 200; style.textAlign = "right"; }
  else { style.left = x - 50; style.width = 100; style.textAlign = "center"; }
  return <div style={style}>{props.children}</div>;
}

function Panel(props: { letter: string; letterBase: number; headBase: number; tops: number[]; rows: Seg[][][]; dark: number[][][][]; labelBases: number[] }) {
  const { letter, letterBase, headBase, tops, rows, dark, labelBases } = props;
  const out: any[] = [];
  out.push(<Txt key="L" x={16} base={letterBase} size={28} align="left">{letter}</Txt>);
  COLS.forEach((c, i) => out.push(<Txt key={"h" + i} x={HEAD_X[i]} base={headBase} size={18} align="center">{c}</Txt>));
  ROWS.forEach((r, ri) => {
    out.push(<Txt key={"r" + ri} x={63} base={labelBases[ri]} size={21} align="right">{r}</Txt>);
    out.push(<Mini key={"rise" + ri} left={78} top={tops[ri]} w={134} h={94} segs={[["M", RISES[ri]]]} rise />);
    rows[ri].forEach((segs, ci) =>
      out.push(<Mini key={`c${ri}_${ci}`} left={COL_LEFT[ci]} top={tops[ri]} w={94} h={93} segs={segs} dark={dark[ri][ci]} />)
    );
  });
  return <>{out}</>;
}

export default function App() {
  return (
    <div style={{ position: "absolute", left: 0, top: 0, width: 1099, height: 776, overflow: "hidden", background: "#fff", fontFamily: FONT }}>
      <Panel letter="A" letterBase={33} headBase={34} tops={A_TOPS} rows={A_ROWS} dark={A_DARK} labelBases={[106, 217, 330]} />
      <Panel letter="B" letterBase={446} headBase={447} tops={B_TOPS} rows={B_ROWS} dark={B_DARK} labelBases={[516, 628, 741]} />
    </div>
  );
}
